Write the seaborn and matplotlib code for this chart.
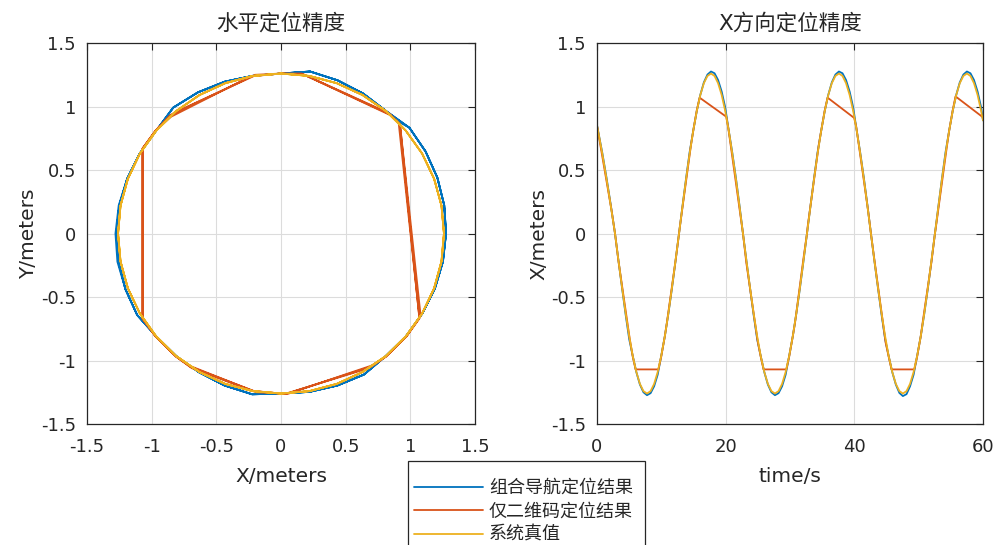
import matplotlib
matplotlib.use("Agg")
import matplotlib.pyplot as plt
from matplotlib.patches import Rectangle
import seaborn as sns
import pandas as pd

# ---------------- data ----------------
# time stamps of the sampled trajectory (s)
t_truth = [
    0.00, 0.16, 0.82, 1.48, 2.14, 2.80,
    3.35, 3.91, 4.46, 5.01, 5.56, 6.12, 6.67, 7.22, 7.77, 8.33, 8.88, 9.43,
    9.98, 10.54, 11.09, 11.64, 12.19, 12.75, 13.30, 13.85, 14.40, 14.96, 15.51, 16.06,
    16.61, 17.17, 17.72, 18.27, 18.82, 19.38, 19.93, 20.48, 21.03, 21.59, 22.14, 22.69,
    23.24, 23.80, 24.35, 24.90, 25.45, 26.01, 26.56, 27.11, 27.66, 28.22, 28.77, 29.32,
    29.87, 30.43, 30.98, 31.53, 32.08, 32.64, 33.19, 33.74, 34.29, 34.85, 35.40, 35.95,
    36.50, 37.06, 37.61, 38.16, 38.71, 39.27, 39.82, 40.37, 40.92, 41.48, 42.03, 42.58,
    43.13, 43.69, 44.24, 44.79, 45.34, 45.90, 46.45, 47.00, 47.55, 48.11, 48.66, 49.21,
    49.76, 50.32, 50.87, 51.42, 51.97, 52.53, 53.08, 53.63, 54.18, 54.74, 55.29, 55.84,
    56.39, 56.95, 57.50, 58.05, 58.60, 59.16, 59.71, 60.00,
]

# 系统真值
x_truth = [
    0.851, 0.810, 0.630, 0.431, 0.219, 0.000,
    -0.219, -0.431, -0.630, -0.810, -0.965, -1.091, -1.184, -1.241, -1.260,
    -1.241, -1.184, -1.091, -0.965, -0.810, -0.630, -0.431, -0.219, 0.000,
    0.219, 0.431, 0.630, 0.810, 0.965, 1.091, 1.184, 1.241, 1.260,
    1.241, 1.184, 1.091, 0.965, 0.810, 0.630, 0.431, 0.219, 0.000,
    -0.219, -0.431, -0.630, -0.810, -0.965, -1.091, -1.184, -1.241, -1.260,
    -1.241, -1.184, -1.091, -0.965, -0.810, -0.630, -0.431, -0.219, 0.000,
    0.219, 0.431, 0.630, 0.810, 0.965, 1.091, 1.184, 1.241, 1.260,
    1.241, 1.184, 1.091, 0.965, 0.810, 0.630, 0.431, 0.219, 0.000,
    -0.219, -0.431, -0.630, -0.810, -0.965, -1.091, -1.184, -1.241, -1.260,
    -1.241, -1.184, -1.091, -0.965, -0.810, -0.630, -0.431, -0.219, 0.000,
    0.219, 0.431, 0.630, 0.810, 0.965, 1.091, 1.184, 1.241, 1.260,
    1.241, 1.184, 1.091, 0.965, 0.891,
]
y_truth = [
    0.929, 0.965, 1.091, 1.184, 1.241, 1.260,
    1.241, 1.184, 1.091, 0.965, 0.810, 0.630, 0.431, 0.219, 0.000,
    -0.219, -0.431, -0.630, -0.810, -0.965, -1.091, -1.184, -1.241, -1.260,
    -1.241, -1.184, -1.091, -0.965, -0.810, -0.630, -0.431, -0.219, 0.000,
    0.219, 0.431, 0.630, 0.810, 0.965, 1.091, 1.184, 1.241, 1.260,
    1.241, 1.184, 1.091, 0.965, 0.810, 0.630, 0.431, 0.219, 0.000,
    -0.219, -0.431, -0.630, -0.810, -0.965, -1.091, -1.184, -1.241, -1.260,
    -1.241, -1.184, -1.091, -0.965, -0.810, -0.630, -0.431, -0.219, 0.000,
    0.219, 0.431, 0.630, 0.810, 0.965, 1.091, 1.184, 1.241, 1.260,
    1.241, 1.184, 1.091, 0.965, 0.810, 0.630, 0.431, 0.219, 0.000,
    -0.219, -0.431, -0.630, -0.810, -0.965, -1.091, -1.184, -1.241, -1.260,
    -1.241, -1.184, -1.091, -0.965, -0.810, -0.630, -0.431, -0.219, 0.000,
    0.219, 0.431, 0.630, 0.810, 0.891,
]

# 组合导航定位结果 (same time stamps as the truth)
x_fused = [
    0.851, 0.811, 0.636, 0.439, 0.225, 0.000,
    -0.219, -0.435, -0.642, -0.833, -0.965, -1.092, -1.189, -1.250, -1.273,
    -1.257, -1.203, -1.112, -0.965, -0.810, -0.632, -0.436, -0.223, 0.000,
    0.220, 0.436, 0.641, 0.810, 0.965, 1.092, 1.190, 1.252, 1.276,
    1.262, 1.209, 1.118, 0.993, 0.811, 0.636, 0.439, 0.225, 0.000,
    -0.219, -0.435, -0.642, -0.833, -0.965, -1.092, -1.189, -1.250, -1.273,
    -1.257, -1.203, -1.112, -0.965, -0.810, -0.632, -0.436, -0.223, 0.000,
    0.220, 0.436, 0.641, 0.810, 0.965, 1.092, 1.190, 1.252, 1.276,
    1.262, 1.209, 1.118, 0.993, 0.811, 0.636, 0.439, 0.225, 0.000,
    -0.219, -0.435, -0.642, -0.833, -0.965, -1.092, -1.189, -1.255, -1.280,
    -1.265, -1.203, -1.112, -0.965, -0.810, -0.632, -0.436, -0.223, 0.000,
    0.220, 0.436, 0.641, 0.810, 0.965, 1.092, 1.190, 1.252, 1.276,
    1.262, 1.209, 1.118, 0.993, 0.891,
]
y_fused = [
    0.929, 0.966, 1.102, 1.206, 1.276, 1.260,
    1.242, 1.196, 1.112, 0.992, 0.810, 0.631, 0.433, 0.221, 0.000,
    -0.222, -0.438, -0.642, -0.810, -0.965, -1.094, -1.197, -1.266, -1.260,
    -1.247, -1.197, -1.111, -0.965, -0.810, -0.631, -0.433, -0.221, 0.000,
    0.223, 0.440, 0.646, 0.833, 0.966, 1.102, 1.206, 1.276, 1.260,
    1.242, 1.196, 1.112, 0.992, 0.810, 0.631, 0.433, 0.221, 0.000,
    -0.222, -0.438, -0.642, -0.810, -0.965, -1.094, -1.197, -1.266, -1.260,
    -1.247, -1.197, -1.111, -0.965, -0.810, -0.631, -0.433, -0.221, 0.000,
    0.223, 0.440, 0.646, 0.833, 0.966, 1.102, 1.206, 1.276, 1.260,
    1.242, 1.196, 1.112, 0.992, 0.810, 0.631, 0.433, 0.221, 0.000,
    -0.222, -0.438, -0.642, -0.810, -0.965, -1.094, -1.197, -1.266, -1.260,
    -1.247, -1.197, -1.111, -0.965, -0.810, -0.631, -0.433, -0.221, 0.000,
    0.223, 0.440, 0.646, 0.833, 0.891,
]

# 仅二维码定位结果 (QR fixes, straight segments across the gaps)
t_qr = [
    0.00, 2.27, 2.80, 3.32, 5.09, 5.56, 6.00, 9.54, 9.98, 10.54, 10.87, 12.22,
    12.75, 12.87, 14.59, 14.96, 15.51, 15.95, 20.09, 20.41,
    22.25, 22.69, 23.21, 24.98, 25.45, 25.89, 29.43, 29.87, 30.43, 30.76, 32.11,
    32.64, 32.76, 34.48, 34.85, 35.40, 35.84, 39.98, 40.30,
    42.14, 42.58, 43.10, 44.87, 45.34, 45.78, 49.32, 49.76, 50.32, 50.65, 52.00,
    52.53, 52.65, 54.37, 54.74, 55.29, 55.73, 59.87,
]
x_qr = [
    0.85, 0.18, 0.00, -0.21, -0.83, -0.97, -1.07, -1.07, -0.97, -0.81, -0.70, -0.21,
    0.00, 0.05, 0.69, 0.81, 0.97, 1.07, 0.92, 0.83,
    0.16, 0.00, -0.23, -0.85, -0.97, -1.07, -1.07, -0.97, -0.81, -0.71, -0.19,
    0.00, 0.06, 0.70, 0.81, 0.97, 1.07, 0.91, 0.84,
    0.18, 0.00, -0.20, -0.86, -0.97, -1.07, -1.07, -0.97, -0.81, -0.69, -0.22,
    0.00, 0.04, 0.68, 0.81, 0.97, 1.08, 0.92,
]
y_qr = [
    0.93, 1.25, 1.26, 1.24, 0.95, 0.81, 0.67, -0.67, -0.81, -0.97, -1.05, -1.24,
    -1.26, -1.26, -1.05, -0.97, -0.81, -0.67, 0.86, 0.95,
    1.26, 1.26, 1.24, 0.92, 0.81, 0.67, -0.67, -0.81, -0.97, -1.04, -1.25,
    -1.26, -1.26, -1.04, -0.97, -0.81, -0.66, 0.87, 0.94,
    1.25, 1.26, 1.25, 0.93, 0.81, 0.67, -0.67, -0.81, -0.97, -1.06, -1.24,
    -1.26, -1.26, -1.06, -0.97, -0.81, -0.65, 0.86,
]

labels = ["组合导航定位结果", "仅二维码定位结果", "系统真值"]
colors = ["#0072BD", "#D95319", "#EDB120"]

fused = pd.DataFrame({"t": t_truth, "x": x_fused, "y": y_fused})
qr = pd.DataFrame({"t": t_qr, "x": x_qr, "y": y_qr})
truth = pd.DataFrame({"t": t_truth, "x": x_truth, "y": y_truth})
series = [fused, qr, truth]

# ---------------- style ----------------
sns.set_style("whitegrid")
plt.rcParams["font.family"] = ["DejaVu Sans", "Noto Sans CJK SC"]
plt.rcParams["axes.unicode_minus"] = False
edge = "#262626"

fig = plt.figure(figsize=(10, 5.45), dpi=100)
ax1 = fig.add_axes([0.087, 0.222, 0.388, 0.699])
ax2 = fig.add_axes([0.597, 0.222, 0.386, 0.699])

for df, lab, col in zip(series, labels, colors):
    sns.lineplot(data=df, x="x", y="y", sort=False, estimator=None,
                 color=col, lw=1.3, ax=ax1, legend=False)
    sns.lineplot(data=df, x="t", y="x", sort=False, estimator=None,
                 color=col, lw=1.3, ax=ax2, label=lab, legend=False)

ticks = [-1.5, -1, -0.5, 0, 0.5, 1, 1.5]
tick_text = ["-1.5", "-1", "-0.5", "0", "0.5", "1", "1.5"]

ax1.set_xlim(-1.5, 1.5)
ax1.set_ylim(-1.5, 1.5)
ax1.set_xticks(ticks)
ax1.set_xticklabels(tick_text)
ax1.set_yticks(ticks)
ax1.set_yticklabels(tick_text)
ax1.set_xlabel("X/meters")
ax1.set_ylabel("Y/meters")
ax1.set_title("水平定位精度", pad=10)

ax2.set_xlim(0, 60)
ax2.set_ylim(-1.5, 1.5)
ax2.set_xticks([0, 20, 40, 60])
ax2.set_yticks(ticks)
ax2.set_yticklabels(tick_text)
ax2.set_xlabel("time/s")
ax2.set_ylabel("X/meters")
ax2.set_title("X方向定位精度", pad=10)

for ax in (ax1, ax2):
    ax.grid(True, color="#dcdcdc", lw=0.8)
    ax.tick_params(direction="in", length=5, width=0.8, top=True, right=True,
                   colors=edge, labelsize=13)
    ax.tick_params(axis="x", pad=10)
    ax.tick_params(axis="y", pad=8)
    for sp in ax.spines.values():
        sp.set_color(edge)
        sp.set_linewidth(0.9)
    ax.xaxis.label.set_size(14.5)
    ax.yaxis.label.set_size(14.5)
    ax.xaxis.label.set_color(edge)
    ax.yaxis.label.set_color(edge)
    ax.title.set_size(15.5)
    ax.title.set_color(edge)
    ax.title.set_fontweight("normal")
    ax.xaxis.labelpad = 8
    ax.yaxis.labelpad = 2

# legend box runs past the bottom edge, as in the reference
box = Rectangle((0.408, -0.05), 0.237, 0.2041, transform=fig.transFigure,
                facecolor="white", edgecolor=edge, lw=0.9, zorder=3)
fig.add_artist(box)

handles = ax2.get_lines()[:3]
leg = fig.legend(handles, labels, loc="upper left", bbox_to_anchor=(0.414, 0.121),
                 frameon=False, fontsize=13, handlelength=3.8, handletextpad=0.35,
                 labelspacing=0.3, borderpad=0, borderaxespad=0)
leg.set_zorder(4)

fig.savefig("out.png", dpi=100)
